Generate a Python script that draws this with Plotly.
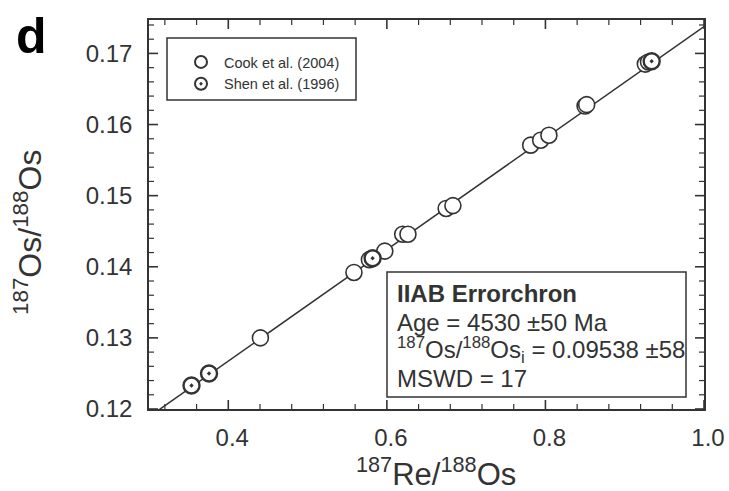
import plotly.graph_objects as go

# ---- data ----
cook_x = [0.4405, 0.5585, 0.578, 0.5974, 0.620, 0.6266, 0.6748, 0.6833,
          0.7814, 0.7940, 0.8044, 0.850, 0.852, 0.926, 0.930]
cook_y = [0.1300, 0.1392, 0.1410, 0.1422, 0.14458, 0.14458, 0.1482, 0.1486,
          0.1571, 0.1578, 0.1585, 0.1626, 0.1628, 0.1685, 0.1688]
shen_x = [0.3536, 0.3757, 0.582, 0.934]
shen_y = [0.1233, 0.1250, 0.1412, 0.1689]
line_x = [0.30, 1.0]
line_y = [0.11890, 0.17377]
x_ticks = [0.4, 0.6, 0.8, 1.0]
x_ticktext = ["0.4", "0.6", "0.8", "1.0"]
y_ticks = [0.12, 0.13, 0.14, 0.15, 0.16, 0.17]
y_ticktext = ["0.12", "0.13", "0.14", "0.15", "0.16", "0.17"]
x_range = [0.3, 1.0]
y_range = [0.12, 0.1747]
x_minor_step = 0.04
y_minor_step = 0.002
box_lines = ["<b>IIAB Errorchron</b>", "Age = 4530 ±50 Ma",
             "<sup>187</sup>Os/<sup>188</sup>Os<sub>i</sub> = 0.09538 ±58", "MSWD = 17"]

W, H = 729, 491
L, R, T, B = 149, 704, 20, 409
PW, PH = R - L, B - T


def xp(px):
    return (px - L) / PW


def yp(py):
    return (B - py) / PH


DARK = "#333333"
FONT = "Liberation Sans, Arial, sans-serif"

fig = go.Figure()
fig.add_trace(go.Scatter(x=line_x, y=line_y, mode="lines",
                         line=dict(color=DARK, width=1.5), showlegend=False,
                         hoverinfo="skip"))
fig.add_trace(go.Scatter(x=cook_x, y=cook_y, mode="markers", name="Cook et al. (2004)",
                         marker=dict(symbol="circle", size=16, color="white",
                                     line=dict(color=DARK, width=1.6))))
fig.add_trace(go.Scatter(x=shen_x, y=shen_y, mode="markers", name="Shen et al. (1996)",
                         marker=dict(symbol="circle-dot", size=16, color="white",
                                     line=dict(color=DARK, width=2.4))))

axis_common = dict(showline=True, linecolor=DARK, linewidth=1.5, mirror=True,
                   ticks="", showgrid=False, zeroline=False, automargin=False,
                   tickfont=dict(family=FONT, size=24, color=DARK))
fig.update_xaxes(range=x_range, tickmode="array", tickvals=x_ticks, ticktext=x_ticktext,
                 ticklabelstandoff=6, ticklabelshift=4, **axis_common)
fig.update_yaxes(range=y_range, tickmode="array", tickvals=y_ticks, ticktext=y_ticktext,
                 ticklabelstandoff=10, **axis_common)

# ---- tick marks (inside, on all four sides), placed through the axis scales ----
shapes = []
MAJ, MIN = 9, 5


def xtick(v, length, width):
    for y0, y1 in ((0, length / PH), (1, 1 - length / PH)):
        shapes.append(dict(type="line", xref="x", yref="y domain", x0=v, x1=v,
                           y0=y0, y1=y1, line=dict(color=DARK, width=width),
                           layer="above"))


def ytick(v, length, width):
    for x0, x1 in ((0, length / PW), (1, 1 - length / PW)):
        shapes.append(dict(type="line", xref="x domain", yref="y", x0=x0, x1=x1,
                           y0=v, y1=v, line=dict(color=DARK, width=width),
                           layer="above"))


for v in x_ticks:
    xtick(v, MAJ, 1.6)
k = 1
while x_range[0] + k * x_minor_step < x_range[1] - 1e-9:
    v = round(x_range[0] - 0.02 + k * x_minor_step, 4)
    if v > x_range[0] and all(abs(v - t) > 1e-6 for t in x_ticks):
        xtick(v, MIN, 1.2)
    k += 1
for v in y_ticks:
    ytick(v, MAJ, 1.6)
k = 1
while y_range[0] + k * y_minor_step < y_range[1]:
    v = round(y_range[0] + k * y_minor_step, 4)
    if all(abs(v - t) > 1e-6 for t in y_ticks):
        ytick(v, MIN, 1.2)
    k += 1

shapes += [
    dict(type="rect", xref="paper", yref="paper", x0=xp(167), x1=xp(356),
         y0=yp(100), y1=yp(38), line=dict(color=DARK, width=1.5), fillcolor="white",
         layer="below"),
    dict(type="rect", xref="paper", yref="paper", x0=xp(387), x1=xp(686),
         y0=yp(397), y1=yp(272), line=dict(color=DARK, width=1.5), fillcolor="white",
         layer="above"),
]

annotations = [
    dict(text="<b>d</b>", xref="paper", yref="paper", x=xp(31), y=yp(36),
         xanchor="center", yanchor="middle",
         showarrow=False, font=dict(family=FONT, size=50, color="black")),
    dict(text="<sup>187</sup>Re/<sup>188</sup>Os", xref="paper", yref="paper",
         x=xp(436), y=yp(472), xanchor="center", yanchor="middle", showarrow=False,
         font=dict(family=FONT, size=31, color=DARK)),
    dict(text="<sup>187</sup>Os/<sup>188</sup>Os", xref="paper", yref="paper",
         x=xp(28), y=yp(233), xanchor="center", yanchor="middle",
         textangle=-90, showarrow=False,
         font=dict(family=FONT, size=32, color=DARK)),
]
for txt, yc in zip(box_lines, [293, 322, 350, 378]):
    annotations.append(dict(text=txt, xref="paper", yref="paper", x=xp(395), y=yp(yc),
                            xanchor="left", yanchor="middle", align="left",
                            showarrow=False, font=dict(family=FONT, size=24, color=DARK)))

fig.update_layout(
    template="none",
    width=W, height=H,
    margin=dict(l=L, r=W - R, t=T, b=H - B, autoexpand=False),
    paper_bgcolor="white", plot_bgcolor="white",
    shapes=shapes, annotations=annotations,
    legend=dict(x=xp(178), y=yp(46), xanchor="left", yanchor="top",
                bgcolor="rgba(0,0,0,0)", borderwidth=0,
                font=dict(family=FONT, size=14.5, color=DARK),
                itemsizing="constant", itemwidth=36, tracegroupgap=0),
    showlegend=True,
)

fig.write_html("out.html")
